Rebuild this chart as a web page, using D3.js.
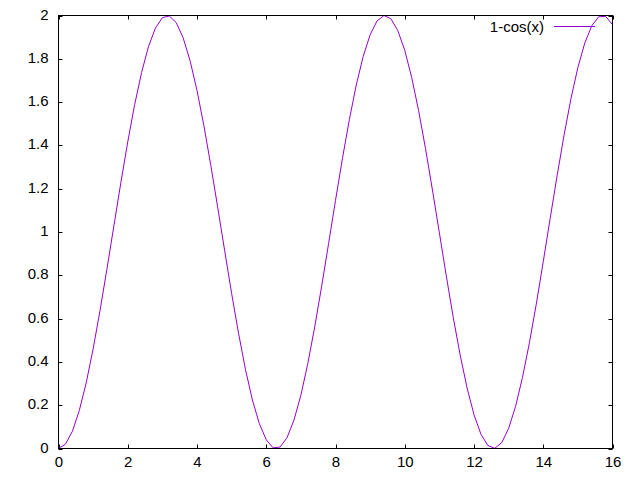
<!DOCTYPE html>
<meta charset="utf-8">
<script src="https://d3js.org/d3.v7.min.js"></script>
<style>
  body { margin: 0; background: #fff; }
  text { font-family: "Liberation Sans", Arial, sans-serif; font-size: 15px; fill: #000; }
</style>
<svg id="chart" width="640" height="480"></svg>
<script>
var xs = [0, 0.2, 0.4, 0.6, 0.8, 1.0, 1.2, 1.4, 1.6, 1.8, 2.0, 2.2, 2.4, 2.6, 2.8, 3.0, 3.2, 3.4, 3.6, 3.8,
          4.0, 4.2, 4.4, 4.6, 4.8, 5.0, 5.2, 5.4, 5.6, 5.8, 6.0, 6.2, 6.4, 6.6, 6.8, 7.0, 7.2, 7.4, 7.6, 7.8,
          8.0, 8.2, 8.4, 8.6, 8.8, 9.0, 9.2, 9.4, 9.6, 9.8, 10.0, 10.2, 10.4, 10.6, 10.8, 11.0, 11.2, 11.4, 11.6, 11.8,
          12.0, 12.2, 12.4, 12.6, 12.8, 13.0, 13.2, 13.4, 13.6, 13.8, 14.0, 14.2, 14.4, 14.6, 14.8, 15.0, 15.2, 15.4, 15.6, 15.8, 16.0];
var ys = [0.000, 0.020, 0.079, 0.175, 0.303, 0.460, 0.638, 0.830, 1.029, 1.227, 1.416, 1.589, 1.737, 1.857, 1.942, 1.990, 1.998, 1.967, 1.897, 1.791,
          1.654, 1.490, 1.307, 1.112, 0.913, 0.716, 0.532, 0.365, 0.224, 0.115, 0.040, 0.003, 0.007, 0.050, 0.131, 0.246, 0.392, 0.562, 0.749, 0.946,
          1.146, 1.339, 1.519, 1.679, 1.811, 1.911, 1.975, 2.000, 1.985, 1.930, 1.839, 1.714, 1.561, 1.385, 1.194, 0.996, 0.797, 0.606, 0.432, 0.280,
          0.156, 0.066, 0.014, 0.001, 0.027, 0.093, 0.194, 0.328, 0.488, 0.668, 0.863, 1.063, 1.260, 1.446, 1.616, 1.760, 1.873, 1.952, 1.994, 1.996, 1.958];
var xTicks = [0, 2, 4, 6, 8, 10, 12, 14, 16];
var yTicks = [0, 0.2, 0.4, 0.6, 0.8, 1, 1.2, 1.4, 1.6, 1.8, 2];
var seriesName = "1-cos(x)";

var pLeft = 58.5, pRight = 612.5, pTop = 15.5, pBottom = 448.5;
var svg = d3.select("#chart");

var x = d3.scaleLinear().domain([0, 16]).range([pLeft, pRight]);
var y = d3.scaleLinear().domain([0, 2]).range([pBottom, pTop]);

// ticks on all four sides, pointing inwards
var tl = 4;
var g = svg.append("g").attr("stroke", "#000").attr("stroke-width", 1);
xTicks.forEach(function(t) {
  var px = Math.round(x(t)) + 0.5;
  g.append("line").attr("x1", px).attr("x2", px).attr("y1", pBottom).attr("y2", pBottom - tl);
  g.append("line").attr("x1", px).attr("x2", px).attr("y1", pTop).attr("y2", pTop + tl);
});
yTicks.forEach(function(t) {
  var py = Math.round(y(t)) + 0.5;
  g.append("line").attr("x1", pLeft).attr("x2", pLeft + tl).attr("y1", py).attr("y2", py);
  g.append("line").attr("x1", pRight).attr("x2", pRight - tl).attr("y1", py).attr("y2", py);
});

// tick labels
svg.selectAll(".xl").data(xTicks).enter().append("text")
  .attr("x", function(d) { return x(d) + 0.5; })
  .attr("y", 467)
  .attr("text-anchor", "middle")
  .text(function(d) { return d; });
svg.selectAll(".yl").data(yTicks).enter().append("text")
  .attr("x", 48.5)
  .attr("y", function(d) { return y(d) + 4; })
  .attr("text-anchor", "end")
  .text(function(d) { return d; });

// curve
var pts = xs.map(function(v, i) { return [v, ys[i]]; });
svg.append("path")
  .datum(pts)
  .attr("fill", "none")
  .attr("stroke", "#9400d3")
  .attr("stroke-width", 1)
  .attr("d", d3.line().x(function(d) { return x(d[0]); }).y(function(d) { return y(d[1]); }));

// legend
svg.append("text").attr("x", 544).attr("y", 32).attr("text-anchor", "end").text(seriesName);
svg.append("line").attr("x1", 554).attr("x2", 595).attr("y1", 26.5).attr("y2", 26.5)
  .attr("stroke", "#9400d3").attr("stroke-width", 1);

// border
svg.append("rect").attr("x", pLeft).attr("y", pTop)
  .attr("width", pRight - pLeft).attr("height", pBottom - pTop)
  .attr("fill", "none").attr("stroke", "#000").attr("stroke-width", 1);
</script>
